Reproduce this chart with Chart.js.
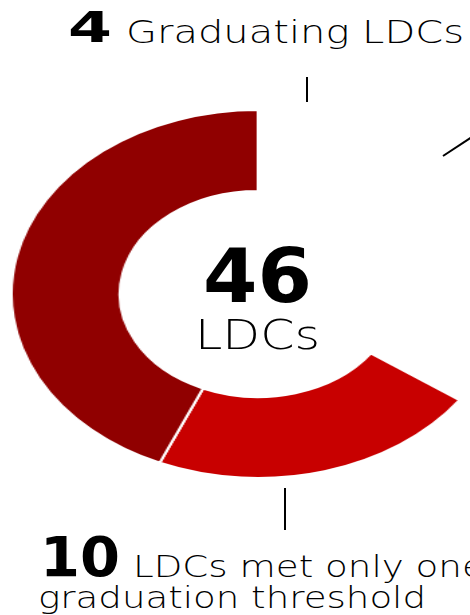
<!DOCTYPE html>
<html>
<head>
<meta charset="utf-8">
<script src="https://cdn.jsdelivr.net/npm/chart.js@4/dist/chart.umd.min.js"></script>
<style>
  html, body { margin: 0; padding: 0; background: #fff; }
  body { width: 470px; height: 615px; position: relative; overflow: hidden; font-family: "DejaVu Sans", sans-serif; }
  #wrap { position: absolute; left: 73px; top: 109px; width: 370px; height: 370px; transform: scaleX(1.34); transform-origin: 185px 185px; }
  .lbl { position: absolute; white-space: nowrap; color: #000; line-height: 1; transform-origin: 0 0; }
  .num { font-weight: bold; }
  .txt { font-weight: 200; }
  svg { position: absolute; left: 0; top: 0; }
</style>
</head>
<body>
<div id="wrap"><canvas id="grafico" width="370" height="370"></canvas></div>
<div id="labels"></div>

<svg width="470" height="615">
  <line x1="307" y1="77" x2="307" y2="102" stroke="#000" stroke-width="2"/>
  <line x1="285" y1="488" x2="285" y2="530" stroke="#000" stroke-width="2"/>
  <line x1="443" y1="156" x2="472" y2="137" stroke="#000" stroke-width="2"/>
</svg>

<script>
// segments clockwise from 12 o'clock
const categorias = ["Graduating LDCs", "Other LDCs", "LDCs met only one graduation threshold", "Remaining LDCs"];
const valores = [4, 12, 10, 20];
const cores = ["#ffffff", "#ffffff", "#c80000", "#900000"];

const total = valores.reduce((a, b) => a + b, 0);

// text boxes: x = left (or centre if center:true), y = baseline, w = target width
const textos = [
  { t: String(valores[0]), cls: "num", size: 42, x: 68, y: 43, w: 44 },
  { t: "Graduating LDCs", cls: "txt", size: 32, x: 126, y: 43, w: 338 },
  { t: String(total), cls: "num", size: 74, x: 257, y: 302, w: 109, center: true },
  { t: "LDCs", cls: "txt", size: 40, x: 257.5, y: 349, w: 125, center: true },
  { t: String(valores[2]), cls: "num", size: 55, x: 40, y: 577, w: 80 },
  { t: "LDCs met only one", cls: "txt", size: 31, x: 133, y: 577, sx: 1.2 },
  { t: "graduation threshold", cls: "txt", size: 31, x: 38, y: 608, w: 388 },
];

const box = document.getElementById("labels");
textos.forEach((o) => {
  const el = document.createElement("div");
  el.className = "lbl " + o.cls;
  el.textContent = o.t;
  el.style.fontSize = o.size + "px";
  box.appendChild(el);
  const larg = el.getBoundingClientRect().width;
  const sx = o.w ? o.w / larg : o.sx;
  const esq = o.center ? o.x - (larg * sx) / 2 : o.x;
  el.style.left = esq + "px";
  el.style.top = o.y - 0.846 * o.size + "px";
  el.style.transform = "scaleX(" + sx + ")";
});

const ctx = document.getElementById("grafico").getContext("2d");
new Chart(ctx, {
  type: "doughnut",
  data: {
    labels: categorias,
    datasets: [
      {
        data: valores,
        backgroundColor: cores,
        borderColor: "#ffffff",
        borderWidth: 2,
        hoverOffset: 0,
      },
    ],
  },
  options: {
    responsive: false,
    animation: false,
    cutout: "56%",
    layout: { padding: 0 },
    plugins: {
      legend: { display: false },
      tooltip: { enabled: false },
    },
  },
});
</script>
</body>
</html>
